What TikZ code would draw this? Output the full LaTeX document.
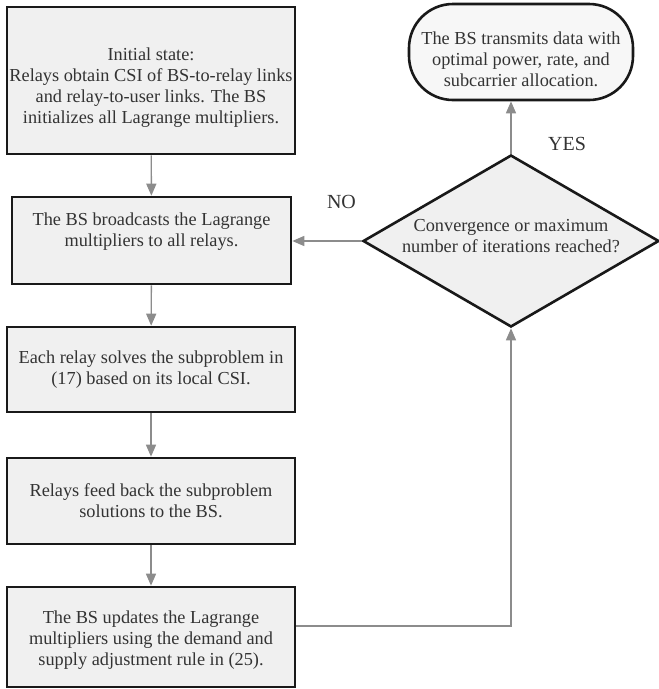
\documentclass[tikz,border=0pt]{standalone}
\usepackage{fontspec}
\setmainfont{Liberation Serif}
\usetikzlibrary{shapes.geometric,arrows.meta}
\begin{document}
\begin{tikzpicture}[x=1pt,y=1pt,
	boxfont/.style={font=\fontsize{18.3}{21}\selectfont, text=black!80},
	procbox/.style={boxfont, draw=black!90, line width=2.6pt, fill=black!6, align=center, minimum width=288pt, inner sep=0pt},
	decbox/.style={boxfont, shape=diamond, draw=black!90, line width=2.6pt, fill=black!6, align=center, minimum width=296pt, minimum height=172pt, aspect=1.72, inner sep=0pt},
	termbox/.style={boxfont, rectangle, rounded corners=44pt, draw=black!90, line width=2.6pt, fill=black!3, align=center, minimum width=224pt, minimum height=96pt, inner sep=0pt},
	flow/.style={draw=black!45, line width=1.4pt, -{Triangle[length=12pt,width=10pt]}},
	tag/.style={font=\fontsize{20}{24}\selectfont, text=black!80}]
	\useasboundingbox (0,0) rectangle (659,-689);
	% left column
	\node[procbox, minimum height=147pt, text height=90pt] (init) at (151,-80.5) {Initial state:\\Relays obtain CSI of BS-to-relay links\\and relay-to-user links. The BS\\initializes all Lagrange multipliers.};
	\node[procbox, minimum width=279pt, minimum height=87pt, text depth=22pt] (bcast) at (151.5,-240.5) {The BS broadcasts the Lagrange\\multipliers to all relays.};
	\node[procbox, minimum height=85pt] (solve) at (151,-369.5) {Each relay solves the subproblem in\\(17) based on its local CSI.};
	\node[procbox, minimum height=86pt] (feed) at (151,-501) {Relays feed back the subproblem\\solutions to the BS.};
	\node[procbox, minimum height=100pt, text height=61pt] (update) at (151,-637) {The BS updates the Lagrange\\multipliers using the demand and\\supply adjustment rule in (25).};
	% right column
	\node[decbox, text depth=10.5pt] (check) at (511,-241) {Convergence or maximum\\number of iterations reached?};
	\node[termbox, text height=69pt] (done) at (521,-52) {The BS transmits data with\\optimal power, rate, and\\subcarrier allocation.};
	\draw[flow] (init) -- (bcast);
	\draw[flow] (bcast) -- (solve);
	\draw[flow] (solve) -- (feed);
	\draw[flow] (feed) -- (update);
	\draw[flow] ([yshift=11pt]update.east) -- ([yshift=11pt]update.east -| check.south) -- (check.south);
	\draw[flow] (check.west) -- (check.west -| bcast.east);
	\draw[flow] (check.north) -- (check.north |- done.south);
	\node[tag] (yes) at (567,-144) {YES};
	\node[tag] (no) at (341.5,-201.5) {NO};
\end{tikzpicture}
\end{document}
